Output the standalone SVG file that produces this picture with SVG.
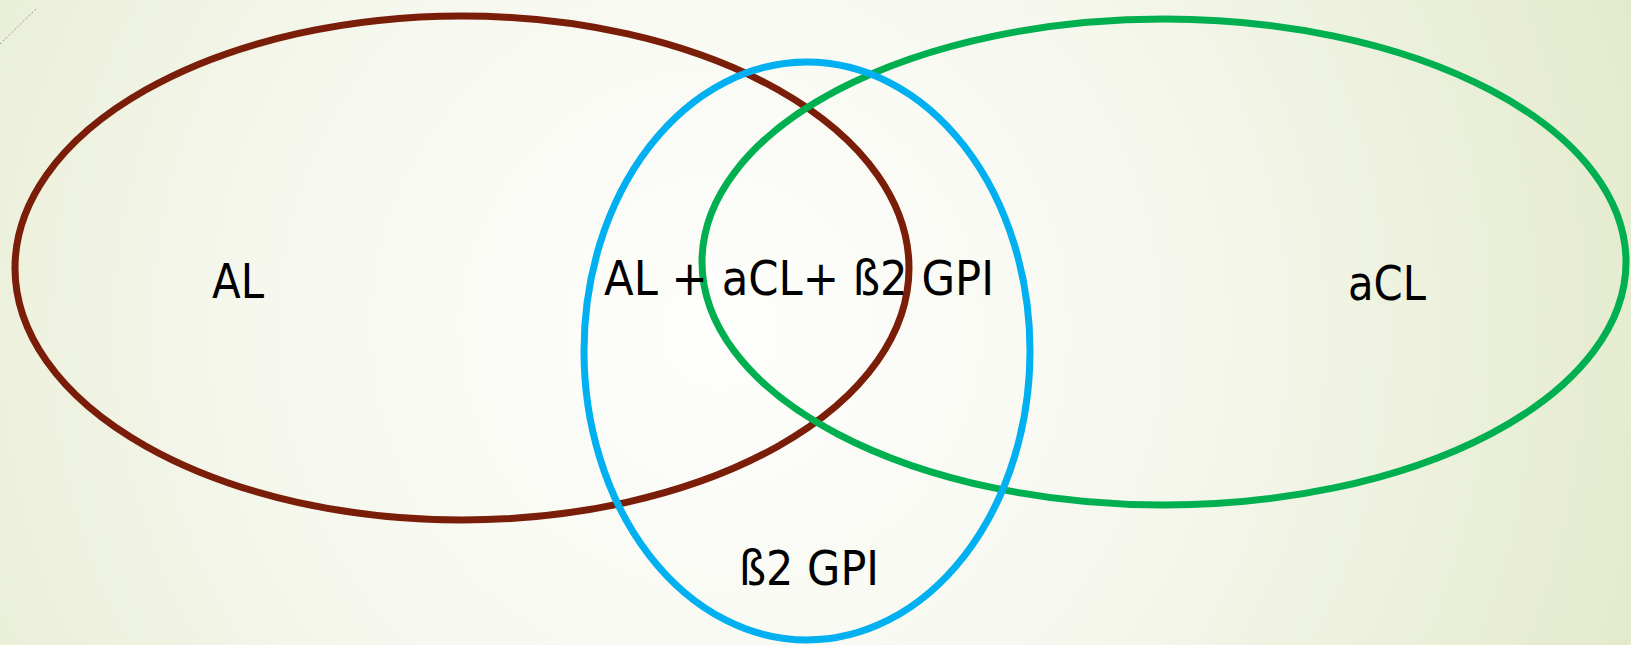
<svg xmlns="http://www.w3.org/2000/svg" width="1631" height="645" viewBox="0 0 1631 645">
<defs>
<radialGradient id="bg" gradientUnits="userSpaceOnUse" cx="720" cy="330" r="980">
<stop offset="0" stop-color="#fefefc"/>
<stop offset="0.45" stop-color="#f6f8ef"/>
<stop offset="1" stop-color="#e3eacb"/>
</radialGradient>
<style>
.ring{fill:none;stroke-width:7}
.lbl{font-family:"DejaVu Sans","Liberation Sans",sans-serif;font-size:48px;fill:#000;text-anchor:middle}
</style>
</defs>
<rect width="1631" height="645" fill="url(#bg)"/>
<line x1="0" y1="44" x2="37" y2="8" stroke="#9a9a90" stroke-width="1" stroke-dasharray="2 2"/>
<g id="connectors"></g>
<g id="set-AL"><ellipse class="ring" cx="462" cy="268" rx="447" ry="252" stroke="#7a1e0a"/></g>
<g id="set-aCL"><ellipse class="ring" cx="1164" cy="262" rx="462" ry="243" stroke="#00b050"/></g>
<g id="set-b2GPI"><ellipse class="ring" cx="807" cy="351" rx="223" ry="289" stroke="#00b0f0"/></g>
<g id="label-AL"><text class="lbl" x="238" y="298" textLength="52" lengthAdjust="spacingAndGlyphs">AL</text></g>
<g id="label-all"><text class="lbl" x="799" y="295" textLength="390" lengthAdjust="spacingAndGlyphs">AL + aCL+ ß2 GPI</text></g>
<g id="label-aCL"><text class="lbl" x="1387" y="300" textLength="78" lengthAdjust="spacingAndGlyphs">aCL</text></g>
<g id="label-b2GPI"><text class="lbl" x="809" y="585" textLength="140" lengthAdjust="spacingAndGlyphs">ß2 GPI</text></g>
</svg>
